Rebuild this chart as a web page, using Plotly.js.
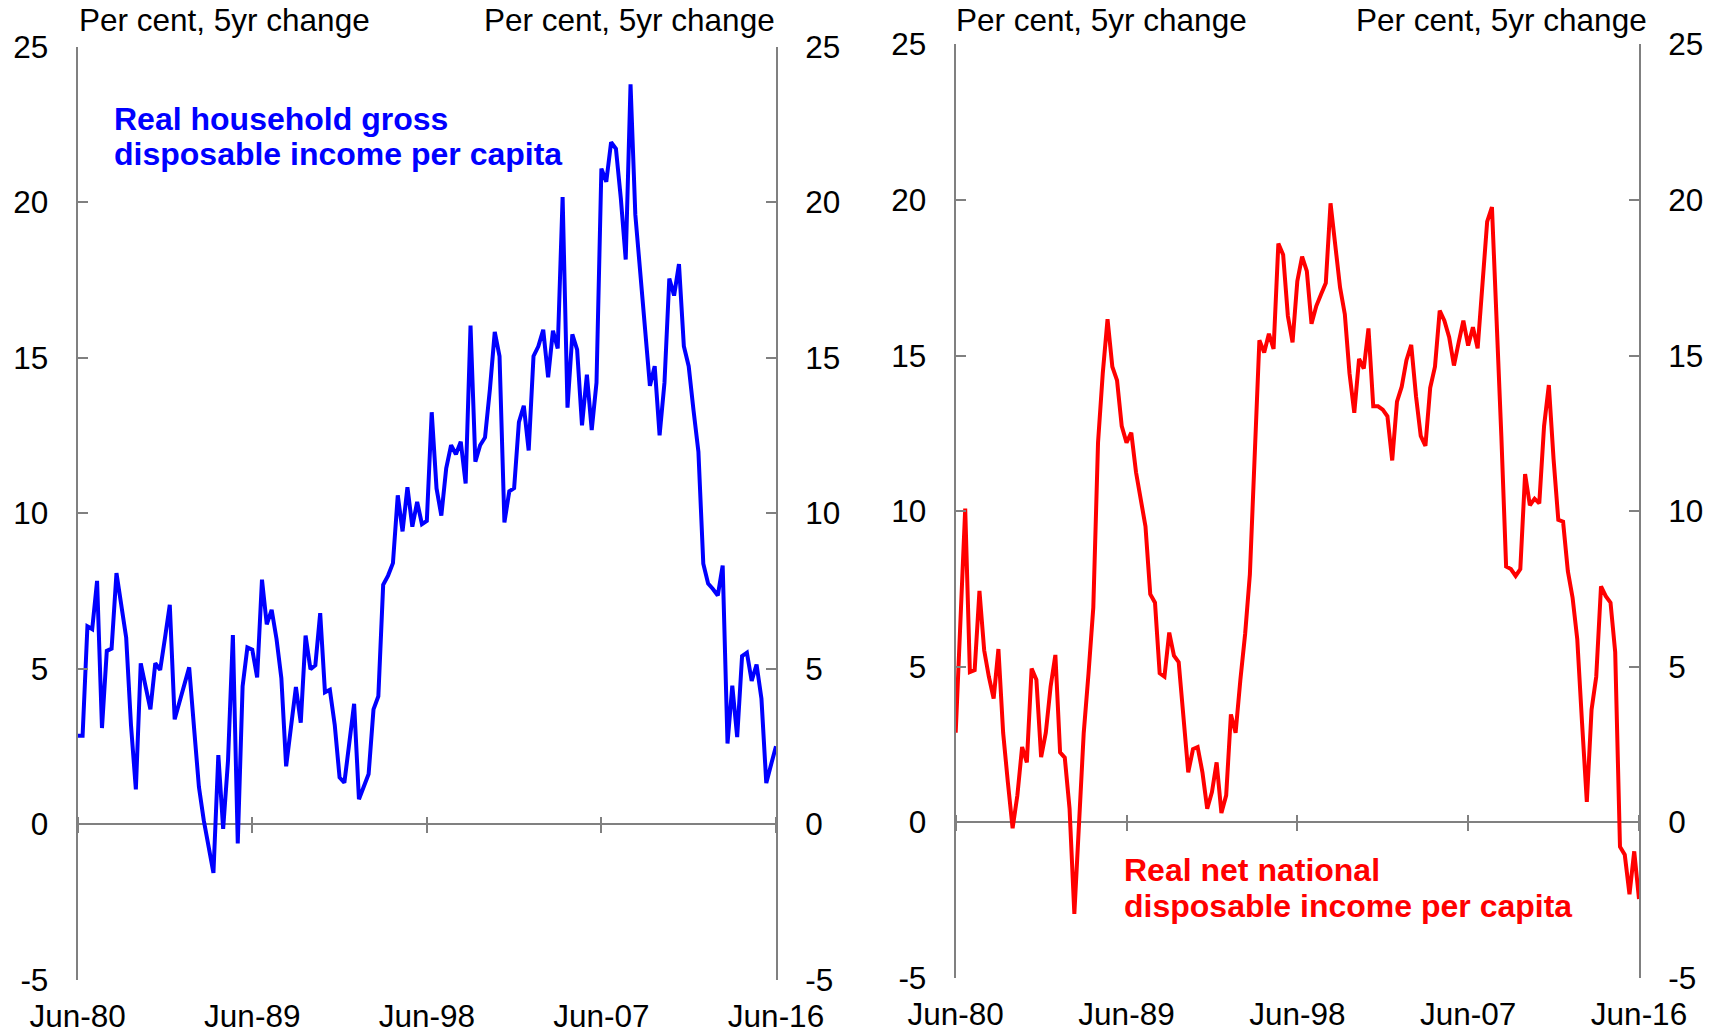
<!DOCTYPE html>
<html>
<head>
<meta charset="utf-8">
<script src="https://cdn.plot.ly/plotly-3.0.1.min.js"></script>
<style>html,body{margin:0;padding:0;background:#fff;}#chart{width:1717px;height:1034px;}</style>
</head>
<body>
<div id="chart"></div>
<script>
// Quarterly observations, Jun-80 .. Jun-16 (145 quarters)
var startYear = 1980, nQuarters = 145;
var quarters = [];
for (var k = 0; k < nQuarters; k++) {
  var mi = 5 + 3 * k;
  var yr = startYear + Math.floor(mi / 12);
  var mo = (mi % 12) + 1;
  quarters.push(yr + '-' + (mo < 10 ? '0' + mo : mo) + '-01');
}

var tickDates = ['1980-06-01', '1989-06-01', '1998-06-01', '2007-06-01', '2016-06-01'];
var tickLabels = ['Jun-80', 'Jun-89', 'Jun-98', 'Jun-07', 'Jun-16'];
var yTicks = [-5, 0, 5, 10, 15, 20, 25];
var yTickLabels = ['-5', '0', '5', '10', '15', '20', '25'];

// Real household gross disposable income per capita, 5yr % change
var householdIncome = [
  2.85, 2.85, 6.37, 6.28, 7.83, 3.10, 5.58, 5.65, 8.08, 6.92,
  6.00, 3.20, 1.13, 5.18, 4.40, 3.70, 5.18, 4.97, 6.00, 7.06,
  3.38, 3.95, 4.50, 5.05, 3.10, 1.20, 0.13, -0.80, -1.56, 2.23,
  -0.14, 2.04, 6.09, -0.61, 4.44, 5.69, 5.62, 4.73, 7.87, 6.43,
  6.90, 5.96, 4.70, 1.87, 3.20, 4.42, 3.27, 6.07, 4.99, 5.12,
  6.79, 4.25, 4.33, 3.20, 1.51, 1.34, 2.60, 3.88, 0.81, 1.20,
  1.62, 3.70, 4.12, 7.70, 8.00, 8.40, 10.58, 9.42, 10.84, 9.57,
  10.37, 9.65, 9.76, 13.25, 10.80, 9.93, 11.45, 12.19, 11.90, 12.30,
  10.96, 16.04, 11.66, 12.19, 12.44, 13.99, 15.83, 15.05, 9.71, 10.71,
  10.81, 12.93, 13.46, 12.02, 15.05, 15.37, 15.90, 14.37, 15.87, 15.30,
  20.17, 13.40, 15.75, 15.26, 12.83, 14.46, 12.68, 14.20, 21.08, 20.66,
  21.93, 21.72, 20.13, 18.16, 23.79, 19.60, 17.80, 16.00, 14.10, 14.73,
  12.51, 14.20, 17.55, 17.00, 18.01, 15.37, 14.73, 13.31, 11.98, 8.38,
  7.74, 7.57, 7.36, 8.32, 2.60, 4.46, 2.81, 5.41, 5.52, 4.61,
  5.14, 4.04, 1.33, 1.93, 2.51
];

// Real net national disposable income per capita, 5yr % change
var nationalIncome = [
  2.88, 6.50, 10.08, 4.83, 4.89, 7.44, 5.53, 4.68, 3.98, 5.57,
  2.88, 1.30, -0.19, 0.87, 2.42, 1.93, 4.94, 4.58, 2.10, 2.88,
  4.36, 5.38, 2.25, 2.08, 0.44, -2.94, -0.19, 2.88, 4.79, 6.91,
  12.20, 14.43, 16.17, 14.64, 14.20, 12.73, 12.20, 12.52, 11.25, 10.30,
  9.51, 7.33, 7.06, 4.79, 4.68, 6.10, 5.36, 5.15, 3.31, 1.61,
  2.35, 2.42, 1.61, 0.44, 0.97, 1.93, 0.30, 0.87, 3.47, 2.88,
  4.58, 6.06, 7.97, 11.57, 15.49, 15.10, 15.70, 15.21, 18.60, 18.24,
  16.27, 15.42, 17.39, 18.18, 17.71, 16.02, 16.59, 16.97, 17.33, 19.89,
  18.56, 17.18, 16.33, 14.43, 13.16, 14.89, 14.58, 15.87, 13.37, 13.37,
  13.26, 13.05, 11.63, 13.52, 14.00, 14.85, 15.34, 13.69, 12.42, 12.10,
  13.96, 14.64, 16.44, 16.12, 15.59, 14.68, 15.42, 16.12, 15.32, 15.91,
  15.23, 17.33, 19.30, 19.77, 16.23, 12.42, 8.22, 8.14, 7.92, 8.14,
  11.19, 10.19, 10.40, 10.25, 12.73, 14.05, 11.67, 9.72, 9.66, 8.07,
  7.22, 5.89, 3.20, 0.66, 3.62, 4.68, 7.58, 7.27, 7.06, 5.47,
  -0.78, -1.04, -2.31, -0.93, -2.46
];

var unitLabel = 'Per cent, 5yr change';
var seriesNames = ['Real household gross', 'disposable income per capita',
                   'Real net national', 'disposable income per capita'];

var W = 1717, H = 1034;
function px(x) { return x / W; }
function py(y) { return 1 - y / H; }

var FONT = '"Liberation Sans", Arial, sans-serif';
var GREY = '#808080';
var tickFont = {family: FONT, size: 31.5, color: '#000'};

// panel geometry (pixels)
var P1 = {l: 77.7, r: 776, t: 46.7, b: 980};
var P2 = {l: 955.7, r: 1639, t: 44.3, b: 978};
function zeroPx(p) { return p.t + 25 * (p.b - p.t) / 30; }

function yAxis(p, side, anchor, overlay) {
  var a = {
    domain: [py(p.b), py(p.t)],
    anchor: anchor,
    side: side,
    range: [-5, 25],
    tickmode: 'array',
    tickvals: yTicks,
    ticktext: yTickLabels,
    ticks: 'inside',
    ticklen: 10,
    tickwidth: 2,
    tickcolor: GREY,
    showline: true,
    linecolor: GREY,
    linewidth: 2,
    showgrid: false,
    zeroline: !overlay,
    zerolinecolor: GREY,
    zerolinewidth: 2,
    tickfont: tickFont,
    ticklabelstandoff: 21,
    fixedrange: true
  };
  if (overlay) a.overlaying = overlay;
  return a;
}

function xAxis(p) {
  return {
    domain: [px(p.l), px(p.r)],
    anchor: 'free',
    position: py(zeroPx(p) - 8),
    type: 'date',
    range: [quarters[0], quarters[quarters.length - 1]],
    tickmode: 'array',
    tickvals: tickDates,
    ticktext: tickLabels,
    ticks: 'outside',
    ticklen: 16,
    tickwidth: 2,
    tickcolor: GREY,
    showline: false,
    showgrid: false,
    zeroline: false,
    tickfont: tickFont,
    ticklabelstandoff: 156,
    fixedrange: true
  };
}

var traces = [
  {x: quarters, y: householdIncome, xaxis: 'x', yaxis: 'y', type: 'scatter', mode: 'lines',
   line: {color: '#0000FF', width: 4}, hoverinfo: 'skip'},
  // registers the right-hand axis of the left panel (draws nothing)
  {x: quarters, y: householdIncome, xaxis: 'x', yaxis: 'y2', type: 'scatter', mode: 'none',
   hoverinfo: 'skip'},
  {x: quarters, y: nationalIncome, xaxis: 'x2', yaxis: 'y3', type: 'scatter', mode: 'lines',
   line: {color: '#FF0000', width: 4}, hoverinfo: 'skip'},
  // registers the right-hand axis of the right panel (draws nothing)
  {x: quarters, y: nationalIncome, xaxis: 'x2', yaxis: 'y4', type: 'scatter', mode: 'none',
   hoverinfo: 'skip'}
];

function ann(text, x, y, xanchor, color, bold) {
  return {
    text: bold ? '<b>' + text + '</b>' : text,
    xref: 'paper', yref: 'paper', x: x, y: y,
    xanchor: xanchor, yanchor: 'middle', showarrow: false,
    font: {family: FONT, size: bold ? 32 : 31.5, color: color},
    borderpad: 0
  };
}

var layout = {
  width: W, height: H,
  margin: {l: 0, r: 0, t: 0, b: 0},
  paper_bgcolor: '#ffffff',
  plot_bgcolor: '#ffffff',
  showlegend: false,
  font: {family: FONT},
  xaxis: xAxis(P1),
  yaxis: yAxis(P1, 'left', 'x'),
  yaxis2: yAxis(P1, 'right', 'x', 'y'),
  xaxis2: xAxis(P2),
  yaxis3: yAxis(P2, 'left', 'x2'),
  yaxis4: yAxis(P2, 'right', 'x2', 'y3'),
  annotations: [
    ann(unitLabel, px(78), py(20.5), 'left', '#000', false),
    ann(unitLabel, px(776), py(20.5), 'right', '#000', false),
    ann(unitLabel, px(955), py(20.5), 'left', '#000', false),
    ann(unitLabel, px(1648), py(20.5), 'right', '#000', false),
    ann(seriesNames[0], px(113), py(119), 'left', '#0000FF', true),
    ann(seriesNames[1], px(113), py(154.5), 'left', '#0000FF', true),
    ann(seriesNames[2], px(1123), py(870), 'left', '#FF0000', true),
    ann(seriesNames[3], px(1123), py(906), 'left', '#FF0000', true)
  ]
};

Plotly.newPlot('chart', traces, layout, {displayModeBar: false, staticPlot: true});
</script>
</body>
</html>
